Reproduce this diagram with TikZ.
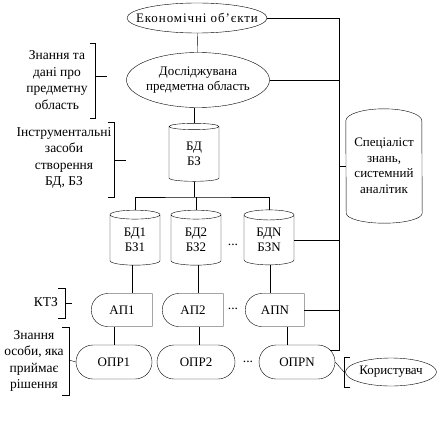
\documentclass[tikz,border=0pt]{standalone}
\usepackage{fontspec}
\setmainfont{Liberation Serif}
\newfontfamily\widefont[LetterSpace=7]{Liberation Serif}
\usetikzlibrary{shapes.geometric,shapes.misc}

\begin{document}
\begin{tikzpicture}[x=1pt, y=-1pt,
  every node/.style={font=\fontsize{13}{15.5}\selectfont, align=center},
  oval/.style={draw, ellipse, inner xsep=-12pt, inner ysep=0pt},
  cyl/.style={draw, cylinder, shape border rotate=90, aspect=0.4, inner sep=0pt, minimum width=50pt, minimum height=55pt},
  ap/.style={draw, rounded rectangle, rounded rectangle right arc=none, minimum width=61pt, minimum height=33pt, inner sep=0pt},
  opr/.style={draw, rounded rectangle, minimum width=76pt, minimum height=34pt, inner sep=0pt},
  lbl/.style={inner sep=0pt, font=\fontsize{13.5}{16.5}\selectfont}
]
  \useasboundingbox (0,0) rectangle (438,428);

  \node[oval, minimum width=140pt, minimum height=30pt, inner xsep=-20pt, font=\widefont\fontsize{13}{15.5}\selectfont] (eo) at (197,18) {Економічні об’єкти};
  \node[oval, minimum width=143pt, minimum height=55pt] (do) at (198,80) {Досліджувана\\предметна область};
  \node[cyl, minimum height=58pt] (bdbz) at (194,154) {БД\\БЗ};

  \node[cyl] (bd1) at (135,240) {БД1\\БЗ1};
  \node[cyl] (bd2) at (196,240) {БД2\\БЗ2};
  \node[cyl] (bdn) at (269,240) {БДN\\БЗN};
  \node[lbl] (dots1) at (233,245) {...};

  \node[minimum width=76pt, minimum height=114pt, inner sep=0pt] (spec) at (384,166) {Спеціаліст\\знань,\\системний\\аналітик};
  \draw ([yshift=-12pt]spec.north west) arc[start angle=180, end angle=0, x radius=38pt, y radius=12pt]
    -- ([yshift=10pt]spec.south east) arc[start angle=0, end angle=-180, x radius=38pt, y radius=10pt] -- cycle;

  \node[ap] (ap1) at (122,310) {АП1};
  \node[ap] (ap2) at (193,310) {АП2};
  \node[ap, minimum width=59pt] (apn) at (275,310) {АПN};
  \node[lbl] (dots2) at (233,309) {...};

  \node[opr] (opr1) at (114,362) {ОПР1};
  \node[opr, minimum width=78pt] (opr2) at (196,362) {ОПР2};
  \node[opr] (oprn) at (297,362) {ОПРN};
  \node[lbl] (dots3) at (248,362) {...};

  \node[oval, minimum width=91pt, minimum height=28pt] (user) at (391,372) {Користувач};

  \coordinate (bus) at (194,197);
  \coordinate (rbus) at (339,0);
  \coordinate (ub) at (344,372);

  \draw (eo) -- (do);
  \draw (do.south -| bdbz.north) -- (bdbz.north);
  \draw (bdbz.south) -- (bus);
  \draw (bd1.north) |- (bus) -| (bdn.north);
  \draw (bd2.north) -- (bd2.north |- bus);

  \draw ([xshift=-3pt]bd1.south) -- ([xshift=-3pt]bd1.south |- ap1.north);
  \draw ([xshift=2pt]bd2.south) -- ([xshift=2pt]bd2.south |- ap2.north);
  \draw ([xshift=1pt]bdn.south) -- ([xshift=1pt]bdn.south |- apn.north);

  \draw (opr1.north) -- (opr1.north |- ap1.south);
  \draw ([xshift=3pt]opr2.north) -- ([xshift=3pt]opr2.north |- ap2.south);
  \draw ([xshift=-10pt]oprn.north) -- ([xshift=-10pt]oprn.north |- apn.south);

  \draw (eo.east) -| (oprn.20 -| rbus) -- (oprn.20);
  \draw (do.east) -- (do.east -| rbus);
  \draw (spec.west) -- (spec.west -| rbus);
  \draw (bdn.east) -- (bdn.east -| rbus);
  \draw (apn.east) -- (apn.east -| rbus);

  \draw (oprn.east) -- (ub);
  \draw (350,357) -- (344,357) -- (344,387) -- (350,387);

  % left brackets
  \node[lbl] (zd) at (57,80) {Знання та\\дані про\\предметну\\область};
  \draw (90,43) -- (95,43) -- (95,118) -- (90,118);
  \draw (95,76) -- (107,76);

  \node[lbl] (iz) at (64,158) {Інструментальні\\засоби\\створення\\БД, БЗ};
  \draw (108,122) -- (114,122) -- (114,197) -- (108,197);
  \draw (114,160) -- (126,160);

  \node[lbl] (ktz) at (46,302) {КТЗ};
  \draw (58,288) -- (65,288) -- (65,318) -- (58,318);
  \draw (65,303) -- (72,303);

  \node[lbl] (zo) at (34,361) {Знання\\особи, яка\\приймає\\рішення};
  \draw (62,327) -- (69,327) -- (69,395) -- (62,395);
  \draw (69,360) -- (opr1.west);
\end{tikzpicture}
\end{document}
